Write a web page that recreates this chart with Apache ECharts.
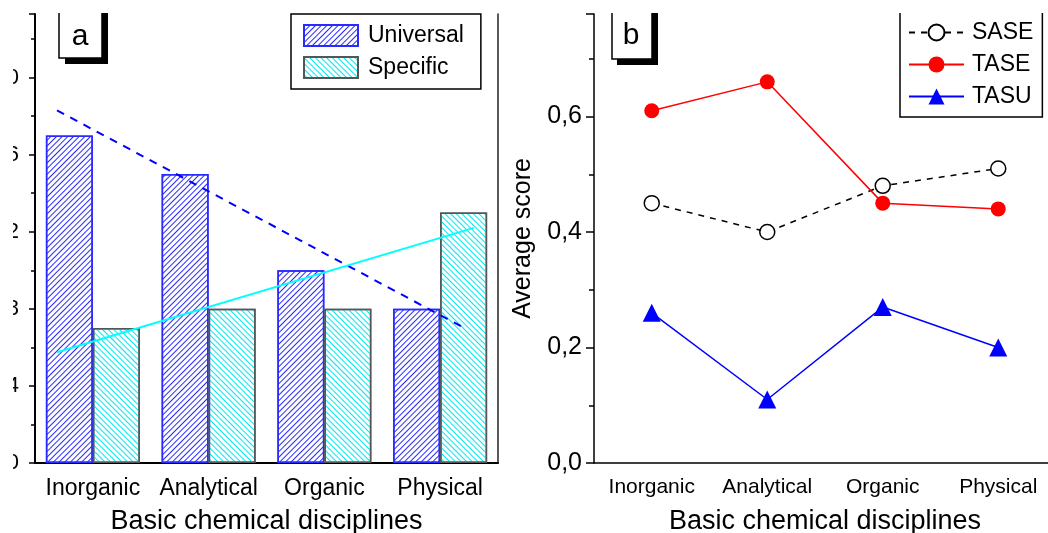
<!DOCTYPE html>
<html>
<head>
<meta charset="utf-8">
<script src="https://cdn.jsdelivr.net/npm/echarts@6/dist/echarts.min.js"></script>
<style>html,body{margin:0;padding:0;background:#fff;}#chart{width:1048px;height:533px;}</style>
</head>
<body>
<div id="chart"></div>
<script>
// ---- data ----
const categories = ['Inorganic', 'Analytical', 'Organic', 'Physical'];
const universal = [17, 15, 10, 8];
const specific = [7, 8, 8, 13];
// trend lines, read as end points (x in category units, 0 = Inorganic)
const universalTrend = [[-0.31, 18.3], [3.21, 7.0]];
const specificTrend = [[-0.31, 5.75], [3.29, 12.2]];
const sase = [0.45, 0.40, 0.48, 0.51];
const tase = [0.61, 0.66, 0.45, 0.44];
const tasu = [0.26, 0.11, 0.27, 0.20];
const leftTicks = [0, 4, 8, 12, 16, 20];
const rightTicks = [0, 0.2, 0.4, 0.6];

const FONT = "'Liberation Sans', Arial, sans-serif";

function hatch(color, rot) {
  return {
    symbol: 'rect', symbolSize: 1, color: color,
    dashArrayX: [1, 0], dashArrayY: [1, 3], rotation: rot
  };
}

const chart = echarts.init(document.getElementById('chart'), null, { renderer: 'canvas' });

const axisTextStyle = { color: '#000', fontFamily: FONT };

const option = {
  animation: false,
  backgroundColor: '#fff',
  textStyle: { fontFamily: FONT, color: '#000' },
  grid: [
    { left: 35, top: 14, width: 463, height: 449, outerBoundsMode: 'none', containLabel: false },
    { left: 594, top: 14, width: 462, height: 449, outerBoundsMode: 'none', containLabel: false }
  ],
  legend: [
    {
      data: ['Universal', 'Specific'],
      orient: 'vertical',
      left: 291, top: 14,
      padding: [10, 17, 10, 12],
      borderColor: '#000', borderWidth: 1.5,
      itemWidth: 54, itemHeight: 21, itemGap: 9,
      icon: 'rect',
      textStyle: { fontSize: 23, color: '#000', fontFamily: FONT, lineHeight: 21, padding: [0, 0, 0, 5] }
    },
    {
      data: ['SASE', 'TASE', 'TASU'],
      orient: 'vertical',
      left: 900, top: 6,
      padding: [15, 9, 9, 8],
      borderColor: '#000', borderWidth: 1.5,
      itemWidth: 55, itemHeight: 20, itemGap: 9,
      textStyle: { fontSize: 23, color: '#000', fontFamily: FONT, lineHeight: 20, padding: [0, 0, 0, 3] }
    }
  ],
  xAxis: [
    {
      type: 'category', gridIndex: 0, data: categories, boundaryGap: true,
      axisLine: { lineStyle: { color: '#000', width: 2 } },
      axisTick: { alignWithLabel: true, length: 7, lineStyle: { color: '#000', width: 1.5 } },
      axisLabel: Object.assign({ fontSize: 23, margin: 14, interval: 0, hideOverlap: false }, axisTextStyle),
      name: 'Basic chemical disciplines', nameLocation: 'middle', nameGap: 45,
      nameTextStyle: Object.assign({ fontSize: 27 }, axisTextStyle)
    },
    { type: 'value', gridIndex: 0, min: -0.5, max: 3.5, show: false },
    {
      type: 'category', gridIndex: 1, data: categories, boundaryGap: true,
      axisLine: { lineStyle: { color: '#000', width: 1.5 } },
      axisTick: { alignWithLabel: true, length: 7, lineStyle: { color: '#000', width: 1.5 } },
      axisLabel: Object.assign({ fontSize: 21, margin: 14, interval: 0, hideOverlap: false }, axisTextStyle),
      name: 'Basic chemical disciplines', nameLocation: 'middle', nameGap: 45,
      nameTextStyle: Object.assign({ fontSize: 27 }, axisTextStyle)
    }
  ],
  yAxis: [
    {
      type: 'value', gridIndex: 0, min: leftTicks[0], max: 23.3, interval: leftTicks[1] - leftTicks[0],
      axisLine: { show: true, onZero: false, lineStyle: { color: '#000', width: 2 } },
      axisTick: { show: true, length: 6, lineStyle: { color: '#000', width: 1.5 } },
      minorTick: { show: true, splitNumber: 2, length: 4, lineStyle: { color: '#000', width: 1.5 } },
      splitLine: { show: false },
      axisLabel: Object.assign({ fontSize: 22, margin: 16, showMaxLabel: false }, axisTextStyle)
    },
    {
      type: 'value', gridIndex: 0, position: 'right', min: 0, max: 23.3,
      axisLine: { show: true, onZero: false, lineStyle: { color: '#222', width: 1.5 } },
      axisTick: { show: false }, axisLabel: { show: false }, splitLine: { show: false }
    },
    {
      type: 'value', gridIndex: 1, min: rightTicks[0], max: 0.7775, interval: rightTicks[1] - rightTicks[0],
      axisLine: { show: true, onZero: false, lineStyle: { color: '#000', width: 1.5 } },
      axisTick: { show: true, length: 8, lineStyle: { color: '#000', width: 1.5 } },
      minorTick: { show: true, splitNumber: 2, length: 5, lineStyle: { color: '#000', width: 1.5 } },
      splitLine: { show: false },
      axisLabel: Object.assign({ fontSize: 25, margin: 12, showMaxLabel: false,
        formatter: v => v.toFixed(1).replace('.', ',') }, axisTextStyle),
      name: 'Average score', nameLocation: 'middle', nameGap: 58, nameRotate: 90,
      nameTextStyle: Object.assign({ fontSize: 25 }, axisTextStyle)
    }
  ],
  series: [
    {
      name: 'Universal', type: 'bar', xAxisIndex: 0, yAxisIndex: 0, data: universal,
      barWidth: 47, barGap: '0%',
      itemStyle: { color: '#ffffff', borderColor: '#2a2aff', borderWidth: 1.5,
        decal: hatch('#2a2aff', -Math.PI / 4) }
    },
    {
      name: 'Specific', type: 'bar', xAxisIndex: 0, yAxisIndex: 0, data: specific,
      barWidth: 47, barGap: '0%',
      itemStyle: { color: '#ffffff', borderColor: '#555', borderWidth: 1.5,
        decal: hatch('#00e8f0', Math.PI / 4) }
    },
    {
      name: 'UniversalTrend', type: 'line', xAxisIndex: 1, yAxisIndex: 0, data: universalTrend,
      symbol: 'none', z: 5, lineStyle: { color: '#0000ff', width: 2, type: [8, 7] }
    },
    {
      name: 'SpecificTrend', type: 'line', xAxisIndex: 1, yAxisIndex: 0, data: specificTrend,
      symbol: 'none', z: 5, lineStyle: { color: '#00ffff', width: 2 }
    },
    {
      name: 'SASE', type: 'line', xAxisIndex: 2, yAxisIndex: 2, data: sase,
      symbol: 'circle', symbolSize: 15,
      lineStyle: { color: '#000', width: 1.5, type: [6, 6] },
      itemStyle: { color: '#fff', borderColor: '#000', borderWidth: 1.5 }
    },
    {
      name: 'TASE', type: 'line', xAxisIndex: 2, yAxisIndex: 2, data: tase,
      symbol: 'circle', symbolSize: 15,
      lineStyle: { color: '#ff0000', width: 1.5 },
      itemStyle: { color: '#ff0000' }
    },
    {
      name: 'TASU', type: 'line', xAxisIndex: 2, yAxisIndex: 2, data: tasu,
      symbol: 'triangle', symbolSize: 18,
      lineStyle: { color: '#0000ff', width: 1.5 },
      itemStyle: { color: '#0000ff' }
    }
  ],
  graphic: [
    // panel label a
    { type: 'rect', z: 90, shape: { x: 65, y: 0, width: 43, height: 64 }, style: { fill: '#000' } },
    { type: 'rect', z: 91, shape: { x: 59, y: -5, width: 43, height: 63 }, style: { fill: '#fff', stroke: '#000', lineWidth: 1.5 } },
    { type: 'text', z: 92, x: 80, y: 37, style: { text: 'a', fontSize: 30, fontFamily: FONT, fill: '#000', align: 'center', verticalAlign: 'middle' } },
    // panel label b
    { type: 'rect', z: 90, shape: { x: 617, y: 0, width: 41, height: 65 }, style: { fill: '#000' } },
    { type: 'rect', z: 91, shape: { x: 612, y: -5, width: 40, height: 64 }, style: { fill: '#fff', stroke: '#000', lineWidth: 1.5 } },
    { type: 'text', z: 92, x: 631, y: 36, style: { text: 'b', fontSize: 30, fontFamily: FONT, fill: '#000', align: 'center', verticalAlign: 'middle' } },
    // cropped edges of the original figure
    { type: 'rect', z: 100, shape: { x: 0, y: 0, width: 1048, height: 13 }, style: { fill: '#fff' } },
    { type: 'rect', z: 100, shape: { x: 0, y: 0, width: 13, height: 533 }, style: { fill: '#fff' } }
  ]
};

chart.setOption(option);
</script>
</body>
</html>
